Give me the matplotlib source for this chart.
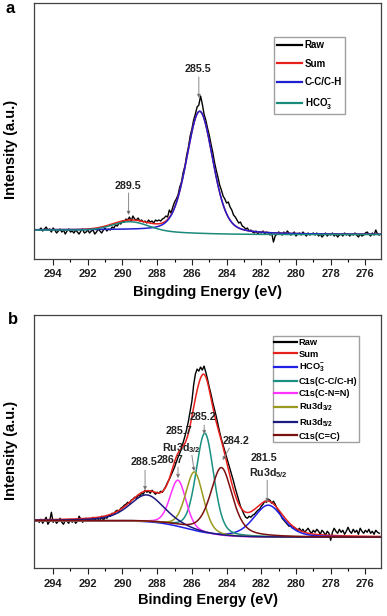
import numpy as np
from matplotlib import pyplot as plt

plt.rcParams['font.family'] = ['Liberation Sans', 'DejaVu Sans']
plt.rcParams['font.weight'] = 'bold'
plt.rcParams['mathtext.fontset'] = 'custom'
plt.rcParams['mathtext.rm'] = 'Liberation Sans:bold'
plt.rcParams['mathtext.it'] = 'Liberation Sans:bold'
plt.rcParams['mathtext.bf'] = 'Liberation Sans:bold'

#####################################
# data

# raw spectra, 0.1 eV steps from 294.8 down to 275.2 eV
energy = np.round(np.arange(294.8, 275.15, -0.1), 1)
raw_a = [2, 4, 1, 3, 5, 2, 3, 0, 4,
         2, -1, 1, 3, 0, 2, -2, 1, 3, 0,
         1, -1, 2, 0, -2, 1, 3, -1, 0, 2,
         -1, 1, 2, -2, 0, 3, 1, -1, 2, 4,
         1, 3, 2, 5, 4, 7, 6, 9, 8, 11,
         10, 13, 12, 15, 11, 16, 13, 12, 14, 11,
         12, 10, 11, 9, 12, 10, 11, 9, 12, 11,
         12, 11, 13, 14, 16, 15, 22, 19, 25, 30,
         33, 37, 45, 50, 60, 66, 77, 85, 96, 103,
         112, 118, 125, 127, 136, 128, 118, 112, 104, 97,
         88, 80, 70, 62, 55, 47, 42, 36, 33, 29,
         30, 25, 22, 17, 15, 12, 9, 10, 6, 5,
         3, 4, 1, 2, 0, -1, 1, -2, 0, -1,
         1, -2, 0, -1, -3, -1, -10, -4, -2, 0,
         -1, -3, 0, -2, 1, -1, -3, -2, 0, -4,
         -2, -1, -3, 0, -2, -4, -1, -3, -2, -1,
         -3, -1, -4, -2, -5, -3, -1, -4, -2, -3,
         -1, -4, -2, -5, -3, -2, -4, -1, -3, -2,
         -4, -2, -3, -1, -3, -5, -2, -4, -3, -1,
         0, -2, -4, -1, -3, 2, -2, -3]
raw_b = [15, 18, 14, 17, 20, 13, 16, 25, 15,
         17, 14, 16, 19, 15, 13, 17, 16, 14, 18,
         15, 17, 14, 16, 21, 18, 15, 17, 19, 16,
         18, 16, 20, 17, 19, 18, 16, 21, 17, 20,
         19, 22, 21, 24, 23, 26, 27, 26, 29, 30,
         32, 33, 35, 34, 37, 38, 40, 39, 42, 41,
         44, 43, 47, 45, 46, 44, 47, 45, 43, 45,
         44, 46, 45, 48, 51, 55, 58, 62, 66, 70,
         75, 80, 84, 89, 95, 101, 108, 116, 126, 136,
         152, 163, 168, 166, 170, 167, 171, 165, 158, 150,
         143, 135, 128, 121, 113, 105, 98, 92, 86, 80,
         74, 68, 62, 56, 49, 43, 37, 31, 27, 23,
         20, 19, 21, 20, 22, 23, 25, 27, 28, 31,
         33, 36, 35, 38, 37, 34, 36, 33, 29, 26,
         23, 19, 17, 15, 13, 11, 12, 9, 10, 8,
         7, 9, 6, 8, 5, 7, 9, 6, 4, 7,
         5, 8, 6, 3, 7, 5, 2, 6, 4, -3,
         5, 9, 6, 4, 8, 5, 7, 3, 6, 10,
         6, 4, 8, 5, 7, 3, 9, 6, 4, 7,
         5, 8, 4, 6, 3, 7, 5, 4]

# fitted background step: high side, low side, centre, width
bg_a = [2.0, -2.5, 287.0, 1.5]
bg_b = [16.5, 0.0, 286.3, 0.9]

# fitted peaks: centre (eV), height, fwhm (eV), lorentz fraction
pk_a = {'C-C/C-H': [285.55, 122, 1.8, 0.3],
        'HCO$_3^{-}$': [289.55, 9, 2.4, 0.0]}
pk_b = {'HCO$_3^{-}$': [281.6, 32, 2.0, 0.4],
        'C1s(C-C/C-H)': [285.25, 100, 1.2, 0.3],
        'C1s(C-N=N)': [286.8, 46.5, 1.1, 0.3],
        'Ru3d$_{3/2}$': [285.85, 59, 1.2, 0.3],
        'Ru3d$_{5/2}$': [288.6, 27, 2.4, 0.5],
        'C1s(C=C)': [284.3, 68, 1.5, 0.5]}

colors_a = ['#1f1fd0', '#1a8a7a']
colors_b = ['#2020e6', '#1a9080', '#ff33ff', '#9a9a20', '#1a1a80', '#7a1010']

#####################################
# helpers

def step(x, p):
    return p[1] + (p[0]-p[1])/(1+np.exp(-(x-p[2])/p[3]))

def pv(x, p):
    c, h, w, eta = p
    g = np.exp(-4*np.log(2)*((x-c)/w)**2)
    l = 1/(1+((x-c)/(w/2))**2)
    return h*(eta*l + (1-eta)*g)

def total(x, bg, pk):
    return step(x, bg) + sum(pv(x, p) for p in pk.values())

def mark(ax, tip, top, text, txy, sub=None, sxy=None):
    # gray stem with a small black head, label above it
    ax.annotate('', xy=tip, xytext=top,
                arrowprops=dict(arrowstyle='-|>', fc='black', ec='#8a8a8a', lw=0.7,
                                mutation_scale=5, shrinkA=0, shrinkB=0))
    ax.text(txy[0], txy[1], text, ha='center', va='center', fontsize=7.7, color='#222222')
    if sub is not None:
        ax.text(sxy[0], sxy[1], sub, ha='center', va='center', fontsize=7.7, color='#222222')

#####################################
# main

fine = np.linspace(295.2, 275, 809)
assert len(raw_a) == len(energy) and len(raw_b) == len(energy)

fig = plt.figure(figsize=(3.87, 6.16), dpi=100)
ax1 = fig.add_axes([0.0879, 0.5795, 0.8966, 0.4156])
ax2 = fig.add_axes([0.0879, 0.0774, 0.8966, 0.4112])

ax1.plot(energy, raw_a, color='black', lw=1.0, label='Raw')
ax1.plot(fine, total(fine, bg_a, pk_a), color='#e8201c', lw=1.1, label='Sum')
for (name, p), c in zip(pk_a.items(), colors_a):
    ax1.plot(fine, step(fine, bg_a)+pv(fine, p), color=c, lw=1.1, label=name)

ax2.plot(energy, raw_b, color='black', lw=1.0, label='Raw')
ax2.plot(fine, total(fine, bg_b, pk_b), color='#e8201c', lw=1.1, label='Sum')
for (name, p), c in zip(pk_b.items(), colors_b):
    ax2.plot(fine, step(fine, bg_b)+pv(fine, p), color=c, lw=1.1, label=name)

# peak labels
mark(ax1, (285.6, 134), (285.6, 155), '285.5', (285.65, 163))
mark(ax1, (289.65, 17), (289.65, 39), '289.5', (289.7, 46))
mark(ax2, (288.7, 47), (288.7, 67), '288.5', (288.75, 75))
mark(ax2, (286.8, 59), (286.8, 70), '286.7', (287.25, 77))
mark(ax2, (285.87, 66), (286.0, 82), '285.7', (286.73, 106), 'Ru3d$_{3/2}$', (286.6, 89))
mark(ax2, (285.29, 103), (285.29, 112), '285.2', (285.39, 120))
mark(ax2, (284.23, 77), (283.84, 89), '284.2', (283.46, 96))
mark(ax2, (281.66, 35), (281.66, 57), '281.5', (281.82, 79), 'Ru3d$_{5/2}$', (281.6, 64))

for ax in (ax1, ax2):
    ax.set_xlim(295.1, 275.1)
    ax.set_xticks(np.arange(294, 275, -2))
    ax.set_xticks(np.arange(293, 275, -2), minor=True)
    ax.set_yticks([])
    ax.tick_params(axis='x', direction='out', length=4, width=0.8, labelsize=8, colors='#202020')
    ax.tick_params(axis='x', which='minor', length=2, width=0.8)
    for s in ax.spines.values():
        s.set_color('#404040')
        s.set_linewidth(0.9)
ax1.set_ylim(-27, 229)
ax2.set_ylim(-31, 222)
ax1.set_ylabel('Intensity (a.u.)', fontsize=10.5, fontweight='bold')
ax2.set_ylabel('Intensity (a.u.)', fontsize=10.5, fontweight='bold')
ax1.yaxis.set_label_coords(-0.046, 0.43)
ax2.yaxis.set_label_coords(-0.046, 0.467)
ax1.set_xlabel('Bingding Energy (eV)', fontsize=10.5, fontweight='bold', labelpad=4)
ax2.set_xlabel('Binding Energy (eV)', fontsize=10.5, fontweight='bold', labelpad=3)

leg1 = ax1.legend(loc='upper right', bbox_to_anchor=(0.896, 0.867), borderaxespad=0, fontsize=7,
                  fancybox=False, edgecolor='#a0a0a0', handlelength=2.6, handletextpad=0.3,
                  borderpad=0.3, labelspacing=0.9, framealpha=1)
leg2 = ax2.legend(loc='upper right', bbox_to_anchor=(0.937, 0.917), borderaxespad=0, fontsize=6.7,
                  fancybox=False, edgecolor='#a0a0a0', handlelength=2.4, handletextpad=0.2,
                  borderpad=0.2, labelspacing=0.3, framealpha=1)
for leg in (leg1, leg2):
    for h in leg.legend_handles:
        h.set_linewidth(1.6)
fig.text(0.014, 0.999, 'a', fontsize=12, fontweight='bold', va='top')
fig.text(0.020, 0.4935, 'b', fontsize=12, fontweight='bold', va='top')

fig.savefig('out.png', dpi=100)
